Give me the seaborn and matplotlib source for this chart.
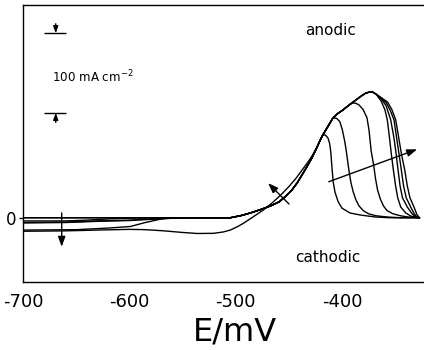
import numpy as np
import pandas as pd
import matplotlib
matplotlib.use("Agg")
import matplotlib.pyplot as plt
import seaborn as sns

# ---- data: anodic sweeps (E in mV, j in mA cm^-2) ----
# shared rise from the baseline
E_RISE = [-505, -494, -485, -475, -467, -459, -453, -447, -442, -437.5, -433, -428, -423]
J_RISE = [0, 3, 6.5, 11, 15, 20, 27, 35, 44, 54, 64, 76, 90]

# shared upper envelope
E_TOP = [-420, -417.8, -414, -408.4, -404, -399, -394.5, -390.5, -386.5, -383, -378, -374.5, -371, -367.9]
J_TOP = [99, 104.5, 113, 125.6, 131, 135.6, 140.5, 144.5, 148.5, 152, 156.5, 158, 158, 155.5]

# cathodic starts for each sweep
E_A_START, J_A_START = [-700], [0]
E_B_START = [-700, -660, -640, -620, -600, -580]
J_B_START = [-4, -4, -3, -1.5, -0.5, 0]
E_C_START = [-700, -660, -630, -600, -580, -560, -540]
J_C_START = [-6, -5.5, -4, -3, -1.5, -0.5, 0]
E_D_START, J_D_START = [-700], [0]
E_E_START = [-700, -650, -620, -599, -585, -568, -555]
J_E_START = [-15.5, -15, -13, -11, -6, -1, 0]
E_F_START = [-700, -660, -630, -600, -580, -560, -540]
J_F_START = [-6.5, -6, -4.5, -3.5, -2, -0.7, 0]
# last sweep: cathodic dip and earlier rise
E_G_START = [-700, -660, -630, -600, -585, -568, -550, -536, -521, -512, -505, -498,
             -492.7, -483.3, -474, -465.8, -458, -450, -443, -437.5, -432, -428, -423]
J_G_START = [-17, -16.5, -15.5, -14.6, -15, -16.4, -18.5, -19.8, -19.6, -18, -15.5, -11,
             -7, 1.3, 9.7, 18.5, 28, 39, 50, 60, 70, 78, 90]

# falling branches after each maximum
E_A_FALL = [-415.5, -413, -411.5, -410.5, -409.3, -408.2, -406.5, -403.5, -399.9, -392.4, -383, -369, -355, -327]
J_A_FALL = [104, 100, 93, 83, 62, 45, 32, 20, 12, 6, 3.5, 1, 0, 0]
E_B_FALL = [-405, -402, -399.5, -397.5, -396, -394.5, -393, -391.5, -389.5, -387, -384, -380, -375, -368, -358, -345, -327]
J_B_FALL = [125, 121, 110, 97, 85, 70, 56, 44, 33, 23, 15, 9, 5, 2.5, 1, 0, 0]
E_C_FALL = [-387, -384, -380, -376.4, -374.5, -373.5, -372.5, -370, -368.5, -366.5, -364, -361, -357.6, -352, -345, -338, -327]
J_C_FALL = [144, 142, 136, 125.6, 110, 97, 84, 65, 50, 35, 24, 15, 9, 5, 2.5, 1, 0]
E_D_FALL = [-363.2, -359.5, -357.3, -355.2, -353.5, -351.6, -349.5, -347.5, -344.7, -340, -335, -330, -327]
J_D_FALL = [147, 135.6, 123, 100, 80, 60, 40, 25, 13.5, 6, 2, 0.5, 0]
E_E_FALL = [-363, -358.5, -356, -354.1, -351, -349, -347.2, -345.3, -343, -338.5, -334, -330.5, -327]
J_E_FALL = [149.5, 141, 131, 123, 100, 80, 60, 40, 25, 13.5, 5, 1, 0]
E_F_FALL = [-363, -358, -354.5, -351, -348.5, -346.3, -344.1, -342, -339.5, -335.3, -332, -329.5, -327]
J_F_FALL = [150.5, 144, 135, 123, 100, 80, 60, 40, 25, 13.5, 5, 1, 0]
E_G_FALL = [-363, -357, -353, -349.4, -346.5, -344, -340.9, -338.5, -336, -332.2, -329.5, -327]
J_G_FALL = [151, 145.5, 136, 123, 100, 80, 60, 40, 25, 13.5, 4, 0]

X_TICKS = [-700, -600, -500, -400]
X_TICK_LABELS = ["-700", "-600", "-500", "-400"]
Y_TICKS = [0]
Y_TICK_LABELS = ["0"]
SCALE_BAR = 100  # mA cm^-2

# ---- assemble each sweep ----
def sweep(e_start, j_start, top_n, e_fall, j_fall, own_rise=False):
    if own_rise:
        e = list(e_start)
        j = list(j_start)
    else:
        e = list(e_start) + E_RISE
        j = list(j_start) + J_RISE
    e += E_TOP[:top_n] + list(e_fall)
    j += J_TOP[:top_n] + list(j_fall)
    return e, j

sweeps = {
    "A": sweep(E_A_START, J_A_START, 2, E_A_FALL, J_A_FALL),
    "B": sweep(E_B_START, J_B_START, 4, E_B_FALL, J_B_FALL),
    "C": sweep(E_C_START, J_C_START, 8, E_C_FALL, J_C_FALL),
    "D": sweep(E_D_START, J_D_START, 14, E_D_FALL, J_D_FALL),
    "E": sweep(E_E_START, J_E_START, 14, E_E_FALL, J_E_FALL),
    "F": sweep(E_F_START, J_F_START, 14, E_F_FALL, J_F_FALL),
    "G": sweep(E_G_START, J_G_START, 14, E_G_FALL, J_G_FALL, own_rise=True),
}

frames = []
for name, (e, j) in sweeps.items():
    frames.append(pd.DataFrame({"sweep": name, "E": e, "j": j, "k": np.arange(len(e))}))
df = pd.concat(frames, ignore_index=True)

# ---- figure ----
sns.set_style("white")
plt.rcParams["font.family"] = ["DejaVu Sans"]
plt.rcParams["text.color"] = "black"
plt.rcParams["axes.labelcolor"] = "black"
plt.rcParams["xtick.color"] = "black"
plt.rcParams["ytick.color"] = "black"

fig = plt.figure(figsize=(4.24, 3.5), dpi=100)
ax = fig.add_axes([23 / 424, 1 - 282.3 / 350, 401 / 424, 277.6 / 350])

sns.lineplot(data=df, x="E", y="j", units="sweep", estimator=None, sort=False,
             color="black", lw=1.0, ax=ax, legend=False)

ax.set_xlim(-700, -322.8)
ax.set_ylim(-81.2, 268)

for side in ("left", "bottom", "top"):
    ax.spines[side].set_visible(True)
    ax.spines[side].set_color("black")
    ax.spines[side].set_linewidth(1.0)
ax.spines["right"].set_visible(False)

ax.set_xticks(X_TICKS)
ax.set_xticklabels(X_TICK_LABELS, fontsize=13)
ax.set_yticks(Y_TICKS)
ax.set_yticklabels(Y_TICK_LABELS, fontsize=12)
ax.tick_params(axis="x", length=0, pad=8, colors="black")
ax.tick_params(axis="y", direction="out", length=3, width=1.0, pad=2, colors="black", left=True)

ax.set_xlabel("E/mV", fontsize=23, color="black")
ax.xaxis.set_label_coords((234.5 - 23) / 401, -0.125)
ax.set_ylabel("")

# scale bar
bar_x = [-680, -659.6]
bar_top, bar_bot = 232, 232 - SCALE_BAR
head = "-|>,head_length=0.5,head_width=0.18"
ax.hlines([bar_top, bar_bot], bar_x[0], bar_x[1], color="black", lw=1.0)
ax.annotate("", xy=(-669.2, bar_top), xytext=(-669.2, bar_top + 12),
            arrowprops=dict(arrowstyle=head, color="black", lw=1.0, mutation_scale=8, shrinkA=0, shrinkB=0))
ax.annotate("", xy=(-669.2, bar_bot), xytext=(-669.2, bar_bot - 12),
            arrowprops=dict(arrowstyle=head, color="black", lw=1.0, mutation_scale=8, shrinkA=0, shrinkB=0))
ax.text(-672.7, 170, r"100 mA cm$^{-2}$", fontsize=8.6, ha="left", va="baseline", color="black")

ax.text(-434.7, 236, "anodic", fontsize=11, ha="left", va="center", color="black")
ax.text(-444, -49.5, "cathodic", fontsize=11, ha="left", va="center", color="black")

# trend arrows
arrow_kw = dict(arrowstyle="-|>,head_length=0.6,head_width=0.22", color="black", lw=1.0,
                mutation_scale=10, shrinkA=0, shrinkB=0)
ax.annotate("", xy=(-663.6, -36.5), xytext=(-663.6, 6), arrowprops=arrow_kw)
ax.annotate("", xy=(-469.5, 43.6), xytext=(-449.8, 17.3), arrowprops=arrow_kw)
ax.annotate("", xy=(-329.3, 86.1), xytext=(-412.4, 45.3), arrowprops=arrow_kw)

fig.savefig("out.png", dpi=100)
